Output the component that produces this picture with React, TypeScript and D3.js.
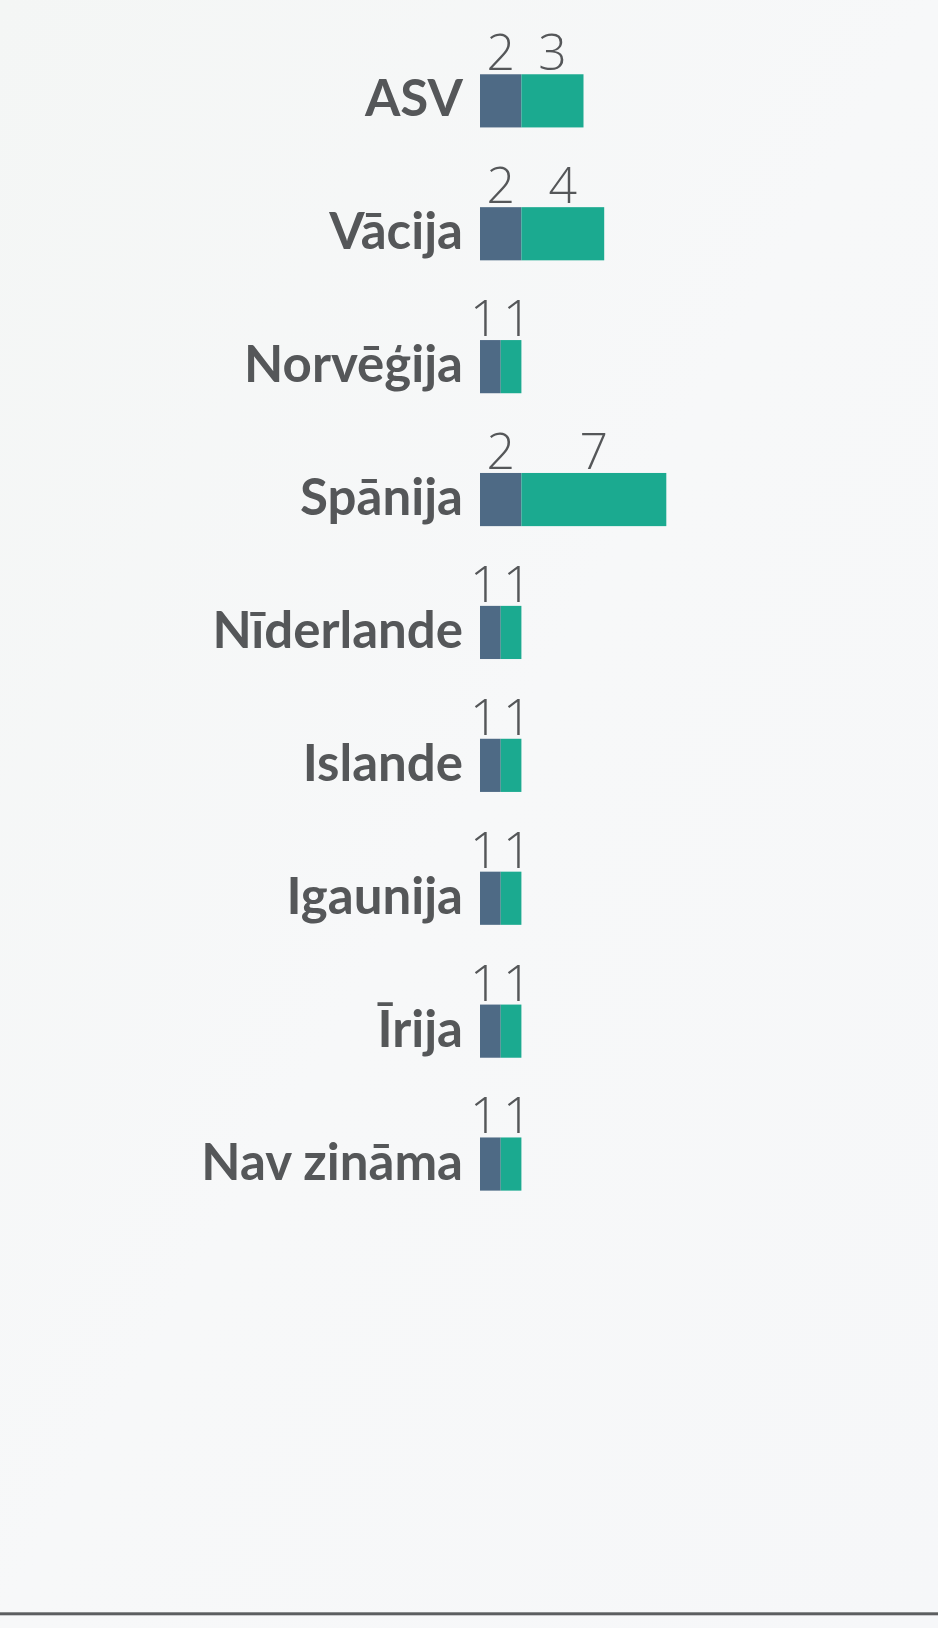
import React from "react";
import * as d3 from "d3";

const categories = ["ASV", "Vācija", "Norvēģija", "Spānija", "Nīderlande", "Islande", "Igaunija", "Īrija", "Nav zināma"];
const seriesA = [2, 2, 1, 2, 1, 1, 1, 1, 1];
const seriesB = [3, 4, 1, 7, 1, 1, 1, 1, 1];

const W = 938;
const H = 1628;
const colorA = "#4e6a85";
const colorB = "#1baa90";
const textColor = "#555759";

export default function App() {
  const y = d3.scaleBand<string>().domain(categories).range([34.4, 1230.5]).paddingInner(0.6).paddingOuter(0.3);
  const maxTotal = d3.max(categories.map((_, i) => seriesA[i] + seriesB[i])) as number;
  const x = d3.scaleLinear().domain([0, maxTotal]).range([480, 480 + maxTotal * 20.7]);
  const minGap = 33;
  const numFont = "'Open Sans', 'Noto Sans', sans-serif";

  return (
    <svg width={W} height={H} style={{ position: "absolute", left: 0, top: 0, display: "block" }}>
      <defs>
        <linearGradient id="bg" x1="0" y1="0" x2="1" y2="1">
          <stop offset="0" stopColor="#f4f6f5" />
          <stop offset="0.5" stopColor="#f7f8f9" />
          <stop offset="1" stopColor="#f6f7f9" />
        </linearGradient>
      </defs>
      <rect x={0} y={0} width={W} height={H} fill="url(#bg)" />
      {categories.map((c, i) => {
        const y0 = y(c) as number;
        const bw = y.bandwidth();
        const a = seriesA[i];
        const b = seriesB[i];
        let cA = (x(0) + x(a)) / 2;
        let cB = (x(a) + x(a + b)) / 2;
        if (cB - cA < minGap) {
          const mid = x(a);
          cA = mid - minGap / 2;
          cB = mid + minGap / 2;
        }
        return (
          <g key={c}>
            <text
              x={x(0) - 17}
              y={y0 + bw / 2 + 15.5}
              textAnchor="end"
              fontFamily="Lato, 'Open Sans', sans-serif"
              fontWeight={700}
              fontSize={51}
              fill={textColor}
            >
              {c}
            </text>
            <rect x={x(0)} y={y0} width={x(a) - x(0)} height={bw} fill={colorA} />
            <rect x={x(a)} y={y0} width={x(a + b) - x(a)} height={bw} fill={colorB} />
            <text x={cA} y={y0 - 4} textAnchor="middle" fontFamily={numFont} fontWeight={300} fontSize={50} fill={textColor}>
              {a}
            </text>
            <text x={cB} y={y0 - 4} textAnchor="middle" fontFamily={numFont} fontWeight={300} fontSize={50} fill={textColor}>
              {b}
            </text>
          </g>
        );
      })}
      <rect x={0} y={1612.3} width={W} height={3} fill="#5c5e60" />
    </svg>
  );
}
